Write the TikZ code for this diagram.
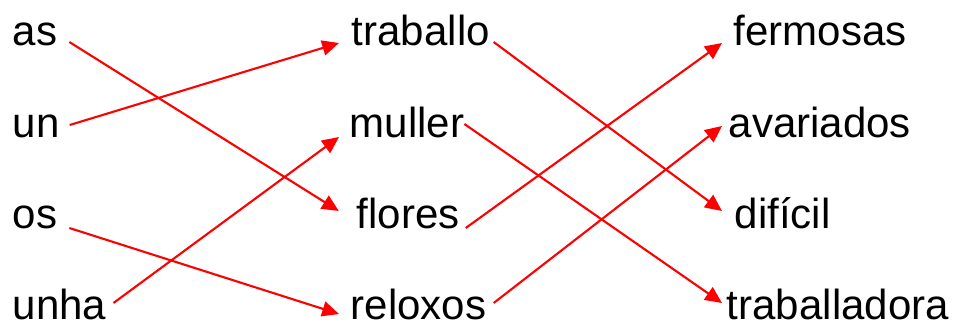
\documentclass[tikz,border=0pt]{standalone}
\usepackage{fontspec}
\setmainfont{Liberation Sans}
\usetikzlibrary{arrows.meta}

\begin{document}
\begin{tikzpicture}[
  word/.style={anchor=base west,inner sep=0pt,font=\fontsize{29.9}{36}\selectfont},
  link/.style={draw=red,line width=1.5pt,-{Triangle[length=0.42cm,width=0.38cm]}}]
\useasboundingbox (0,0) rectangle (23.825,8.075);

% left column
\node[word] (as)   at (0.31,6.95)  {as};
\node[word] (un)   at (0.31,4.65)  {un};
\node[word] (os)   at (0.31,2.375) {os};
\node[word] (unha) at (0.31,0.08) {unha};

% middle column
\node[word] (traballo) at (8.79,6.95)  {traballo};
\node[word] (muller)   at (8.735,4.65) {muller};
\node[word] (flores)   at (8.91,2.375) {flores};
\node[word] (reloxos)  at (8.76,0.08) {reloxos};

% right column
\node[word] (fermosas)     at (18.34,6.95)  {fermosas};
\node[word] (avariados)    at (18.21,4.65)  {avariados};
\node[word] (dificil)      at (18.365,2.375) {difícil};
\node[word] (traballadora) at (18.165,0.08) {traballadora};

\draw[link] ([shift={(0.3,0.075)}]as.base east)    -- ([shift={(-0.44,0.425)}]flores.base west);
\draw[link] ([shift={(0.25,0.3)}]un.base east)     -- ([shift={(-0.315,0.05)}]traballo.base west);
\draw[link] ([shift={(0.3,0)}]os.base east)        -- ([shift={(-0.285,0.145)}]reloxos.base west);
\draw[link] ([shift={(0.175,0.42)}]unha.base east) -- ([shift={(-0.26,0)}]muller.base west);

\draw[link] ([shift={(0.09,0.075)}]traballo.base east) -- ([shift={(-0.315,0.425)}]dificil.base west);
\draw[link] ([shift={(0,0.325)}]muller.base east)      -- ([shift={(-0.115,0.42)}]traballadora.base west);
\draw[link] ([shift={(0.15,0)}]flores.base east)       -- ([shift={(-0.29,0.05)}]fermosas.base west);
\draw[link] ([shift={(0.18,0.42)}]reloxos.base east)  -- ([shift={(-0.16,0.275)}]avariados.base west);
\end{tikzpicture}
\end{document}
